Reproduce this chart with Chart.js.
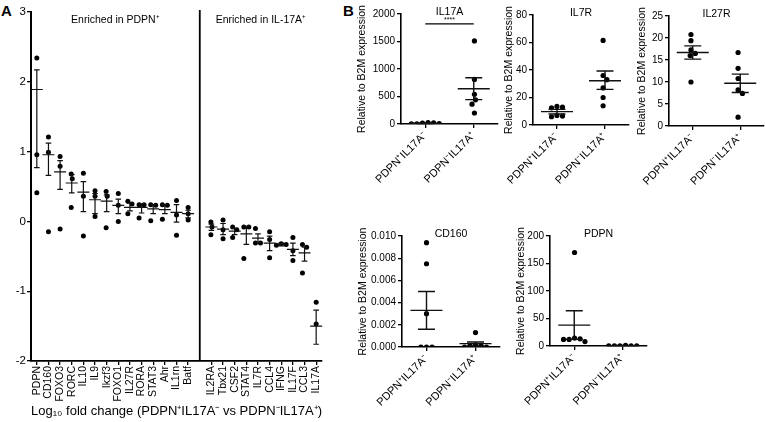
<!DOCTYPE html>
<html>
<head>
<meta charset="utf-8">
<script src="https://cdn.jsdelivr.net/npm/chart.js@4.4.0/dist/chart.umd.min.js"></script>
<style>
  body { margin: 0; background: #fff; }
  #fig { position: relative; width: 765px; height: 422px; overflow: hidden; font-family: "Liberation Sans", Arial, sans-serif; }
  .cv { position: absolute; }
  .panel { position: absolute; font-weight: bold; font-size: 15px; color: #000; line-height: 15px; }
</style>
</head>
<body>
<div id="fig">
  <div class="panel" style="left:1px;top:3px">A</div>
  <div class="panel" style="left:343px;top:3px">B</div>
</div>
<script>
// ---- panel A: log10 fold change per gene ('' = gap between the two groups)
const geneLabels = ['PDPN', 'CD160', 'FOXO3', 'RORC', 'IL10', 'IL9', 'Ikzf3', 'FOXO1', 'IL27R', 'RORA', 'STAT3', 'Ahr', 'IL1rn', 'Batf', '',
  'IL2RA', 'Tbx21', 'CSF2', 'STAT4', 'IL7R', 'CCL4', 'IFNG', 'IL17F', 'CCL3', 'IL17A'];
const genePoints = [
  [2.34, 0.955, 0.41], [1.21, 0.99, -0.15], [0.93, 0.79, -0.11], [0.68, 0.61, 0.20], [0.69, 0.36, -0.21],
  [0.44, 0.36, 0.07], [0.43, 0.36, -0.09], [0.40, 0.23, 0.00], [0.29, 0.25, 0.11], [0.24, 0.24, 0.05],
  [0.24, 0.23, 0.01], [0.24, 0.23, 0.03], [0.30, 0.09, -0.20], [0.20, 0.11, 0.02], [],
  [-0.01, -0.08, -0.19], [0.02, -0.12, -0.25], [-0.08, -0.12, -0.23], [-0.08, -0.08, -0.53], [-0.10, -0.31, -0.31],
  [-0.15, -0.26, -0.52], [-0.32, -0.33, -0.34], [-0.23, -0.42, -0.56], [-0.33, -0.37, -0.74], [-1.16, -1.47]
];
const geneMean = [1.89, 0.955, 0.71, 0.55, 0.42, 0.31, 0.29, 0.23, 0.20, 0.20, 0.18, 0.17, 0.13, 0.11, null,
  -0.08, -0.11, -0.14, -0.18, -0.24, -0.31, -0.33, -0.40, -0.45, -1.50];
const geneHigh = [2.17, 1.12, 0.87, 0.67, 0.57, 0.40, 0.38, 0.32, 0.26, 0.25, 0.24, 0.24, 0.24, 0.16, null,
  -0.04, -0.03, -0.10, -0.07, -0.18, -0.21, -0.31, -0.31, -0.37, -1.27];
const geneLow = [0.77, 0.66, 0.46, 0.41, 0.14, 0.11, 0.14, 0.11, 0.15, 0.12, 0.11, 0.11, -0.01, 0.05, null,
  -0.13, -0.19, -0.19, -0.33, -0.30, -0.42, -0.35, -0.49, -0.57, -1.76];
const yTicksA = [-2, -1, 0, 1, 2, 3];

// ---- panel B: expression relative to B2M, two groups of 6 mice
const groupLabels = ['PDPN⁺IL17A⁻', 'PDPN⁻IL17A⁺'];

const il17aNeg = [25, 20, 15, 8, 5, 3];
const il17aPos = [1510, 810, 540, 440, 360, 200];
const il17aMean = [13, 640];
const il17aLow = [8, 443];
const il17aHigh = [18, 840];

const il7rNeg = [13.5, 13, 12.5, 7, 6.5, 6];
const il7rPos = [61.5, 36, 33, 27, 20, 14];
const il7rMean = [9.7, 32.2];
const il7rLow = [8.0, 25.9];
const il7rHigh = [11.4, 39.3];

const il27rNeg = [20.8, 19.4, 17.3, 16.5, 16, 10];
const il27rPos = [16.7, 13.1, 10.8, 8.2, 7.4, 2.0];
const il27rMean = [16.7, 9.7];
const il27rLow = [15.2, 7.6];
const il27rHigh = [18.2, 11.8];

const cd160Neg = [0.0094, 0.0075, 0.003, 0, 0, 0];
const cd160Pos = [0.0013, 0.0002, 0.0001, 0.0001, 0, 0];
const cd160Mean = [0.0033, 0.0003];
const cd160Low = [0.0016, 0.0001];
const cd160High = [0.0050, 0.00045];

const pdpnNeg = [170, 14.5, 13, 12, 12, 8];
const pdpnPos = [1, 0.5, 0.5, 0.3, 0.2, 0.2];
const pdpnMean = [38, 0.5];
const pdpnLow = [12, 0.3];
const pdpnHigh = [64, 0.8];

const FONT = '"Liberation Sans", Arial, sans-serif';
Chart.defaults.font.family = FONT;
Chart.defaults.color = '#000';

function makeCanvas(left, top, w, h) {
  const c = document.createElement('canvas');
  c.className = 'cv';
  c.width = w; c.height = h;
  c.style.left = left + 'px'; c.style.top = top + 'px';
  c.style.width = w + 'px'; c.style.height = h + 'px';
  document.getElementById('fig').appendChild(c);
  return c;
}

// simple beeswarm: pixel x offsets so dots of diameter d do not overlap
function swarm(values, pxPerUnit, d) {
  const order = values.map((v, i) => i).sort((a, b) => values[b] - values[a]);
  const placed = [];
  const off = new Array(values.length).fill(0);
  order.forEach(i => {
    const y = values[i] * pxPerUnit;
    const cands = [0];
    placed.forEach(p => {
      const dy = Math.abs(p.y - y);
      if (dy < d) {
        const dx = Math.sqrt(d * d - dy * dy);
        cands.push(p.x + dx, p.x - dx);
      }
    });
    cands.sort((a, b) => Math.abs(a) - Math.abs(b));
    const x = cands.find(c => placed.every(p => (p.x - c) ** 2 + (p.y - y) ** 2 >= d * d - 0.01));
    placed.push({x: x, y: y});
    off[i] = x;
  });
  if (!off.length) return off;
  const mid = (Math.min(...off) + Math.max(...off)) / 2;
  return off.map(o => o - mid);
}

// mean line + error whiskers drawn through the chart scales
function errorBars(xs, mean, low, high, meanHalf, capHalf, width) {
  return {
    id: 'errorBars',
    afterDatasetsDraw(chart) {
      const {ctx, scales: {x, y}} = chart;
      ctx.save();
      ctx.strokeStyle = '#111';
      ctx.lineWidth = width;
      mean.forEach((m, i) => {
        if (m == null) return;
        const px = x.getPixelForValue(xs[i]);
        const ym = y.getPixelForValue(m);
        const yh = y.getPixelForValue(high[i]);
        const yl = y.getPixelForValue(low[i]);
        ctx.beginPath();
        ctx.moveTo(px - meanHalf, ym); ctx.lineTo(px + meanHalf, ym);
        ctx.moveTo(px, yh); ctx.lineTo(px, yl);
        ctx.moveTo(px - capHalf, yh); ctx.lineTo(px + capHalf, yh);
        ctx.moveTo(px - capHalf, yl); ctx.lineTo(px + capHalf, yl);
        ctx.stroke();
      });
      ctx.restore();
    }
  };
}

// ---------------- panel A ----------------
(function () {
  const area = {left: 31, top: 12, right: 322, bottom: 361};
  const W = area.left, PR = 10, H = 422 - area.bottom;
  const cv = makeCanvas(0, 0, area.right + PR, 422);
  const slotPx = (area.right - area.left) / geneLabels.length;
  const pxY = (area.bottom - area.top) / 5;
  const gap = geneLabels.indexOf('');

  const pts = [];
  genePoints.forEach((vals, i) => {
    const offs = swarm(vals, pxY, 5);
    vals.forEach((v, k) => pts.push({x: i + offs[k] / slotPx, y: v}));
  });

  const overlay = {
    id: 'panelAText',
    afterDraw(chart) {
      const {ctx, chartArea: a, scales: {x}} = chart;
      const xd = x.getPixelForValue(gap);
      ctx.save();
      ctx.strokeStyle = '#000';
      ctx.lineWidth = 1.8;
      ctx.beginPath(); ctx.moveTo(xd, a.top - 2); ctx.lineTo(xd, a.bottom); ctx.stroke();
      ctx.font = '10.5px ' + FONT;
      ctx.fillStyle = '#000';
      ctx.textAlign = 'center';
      ctx.textBaseline = 'middle';
      ctx.fillText('Enriched in PDPN⁺', (a.left + xd) / 2, 20);
      ctx.fillText('Enriched in IL-17A⁺', (xd + a.right) / 2, 20);
      ctx.restore();
    }
  };

  new Chart(cv, {
    type: 'scatter',
    data: {datasets: [{data: pts, pointRadius: 2.5, pointHoverRadius: 2.5, backgroundColor: '#000', borderWidth: 0}]},
    options: {
      responsive: false,
      animation: false,
      layout: {padding: {top: area.top, right: PR, left: 0, bottom: 0}},
      plugins: {legend: {display: false}, tooltip: {enabled: false}},
      scales: {
        x: {
          type: 'linear', min: -0.5, max: geneLabels.length - 0.5, bounds: 'data',
          afterBuildTicks: s => { s.ticks = geneLabels.map((g, i) => ({value: i})).filter(t => geneLabels[t.value] !== ''); },
          afterFit: s => { s.height = H; },
          ticks: {callback: v => geneLabels[v], autoSkip: false, minRotation: 90, maxRotation: 90, font: {size: 10.5}, padding: 1, color: '#000'},
          grid: {drawOnChartArea: false, tickLength: 4, color: '#000', lineWidth: 1.3},
          border: {color: '#000', width: 1.8},
          title: {display: true, text: 'Log₁₀ fold change (PDPN⁺IL17A⁻ vs PDPN⁻IL17A⁺)', font: {size: 13}, color: '#000', padding: {top: 0, bottom: 2.5}}
        },
        y: {
          min: -2, max: 3, bounds: 'data',
          afterBuildTicks: s => { s.ticks = yTicksA.map(v => ({value: v})); },
          afterFit: s => { s.width = W; },
          ticks: {font: {size: 11.5}, padding: 1, color: '#000'},
          grid: {drawOnChartArea: false, tickLength: 4, color: '#000', lineWidth: 1.3},
          border: {color: '#000', width: 2}
        }
      }
    },
    plugins: [errorBars(geneLabels.map((g, i) => i), geneMean, geneLow, geneHigh, 6, 2.8, 1.2), overlay]
  });
})();

// ---------------- panel B ----------------
function bPanel(p) {
  const W = 50, H = 72, PT = 12, PR = 8;
  const aw = p.right - p.left, ah = p.bottom - p.top;
  const cv = makeCanvas(p.left - W, p.top - PT, W + aw + PR, PT + ah + H);
  const pxY = ah / p.max, pxX = aw / 2;
  const pts = [];
  [p.neg, p.pos].forEach((vals, g) => {
    const offs = swarm(vals, pxY, 5.6);
    vals.forEach((v, k) => pts.push({x: g + offs[k] / pxX, y: v}));
  });

  const overlay = {
    id: 'bText',
    afterDraw(chart) {
      const {ctx, chartArea: a, scales: {x, y}} = chart;
      ctx.save();
      ctx.fillStyle = '#000';
      ctx.textAlign = 'center';
      ctx.textBaseline = 'middle';
      ctx.font = '10.5px ' + FONT;
      ctx.fillText(p.name, (a.left + a.right) / 2, a.top - 2);
      if (p.sig) {
        const yl = y.getPixelForValue(p.sig.at);
        ctx.strokeStyle = '#000';
        ctx.lineWidth = 1.3;
        ctx.beginPath();
        ctx.moveTo(x.getPixelForValue(0), yl); ctx.lineTo(x.getPixelForValue(1), yl);
        ctx.stroke();
        ctx.font = '7px ' + FONT;
        ctx.fillText(p.sig.text, (x.getPixelForValue(0) + x.getPixelForValue(1)) / 2, yl - 4);
      }
      ctx.restore();
    }
  };

  new Chart(cv, {
    type: 'scatter',
    data: {datasets: [{data: pts, pointRadius: 2.6, pointHoverRadius: 2.6, backgroundColor: '#000', borderWidth: 0}]},
    options: {
      responsive: false,
      animation: false,
      layout: {padding: {top: PT, right: PR, left: 0, bottom: 0}},
      plugins: {legend: {display: false}, tooltip: {enabled: false}},
      scales: {
        x: {
          type: 'linear', min: -0.5, max: 1.5, bounds: 'data',
          afterBuildTicks: s => { s.ticks = [{value: 0}, {value: 1}]; },
          afterFit: s => { s.height = H; },
          ticks: {callback: v => groupLabels[v], autoSkip: false, minRotation: 45, maxRotation: 45, font: {size: 11}, padding: 1, color: '#000'},
          grid: {drawOnChartArea: false, tickLength: 4, color: '#000', lineWidth: 1.3},
          border: {color: '#000', width: 1.6}
        },
        y: {
          min: 0, max: p.max, bounds: 'data',
          afterBuildTicks: s => { s.ticks = p.ticks.map(v => ({value: v})); },
          afterFit: s => { s.width = W; },
          ticks: {callback: v => v.toFixed(p.dec), font: {size: 10}, padding: 2, color: '#000'},
          grid: {drawOnChartArea: false, tickLength: 4, color: '#000', lineWidth: 1.3},
          border: {color: '#000', width: 1.6},
          title: {display: true, text: 'Relative to B2M expression', font: {size: 10.5}, color: '#000',
            padding: {top: W - p.titleDist - 6.3, bottom: 0}}
        }
      }
    },
    plugins: [errorBars([0, 1], p.mean, p.low, p.high, 16, 8.5, 1.4), overlay]
  });
}

bPanel({name: 'IL17A', left: 401, top: 14, right: 498, bottom: 124, max: 2000, ticks: [0, 500, 1000, 1500, 2000], dec: 0, titleDist: 39,
  neg: il17aNeg, pos: il17aPos, mean: il17aMean, low: il17aLow, high: il17aHigh, sig: {at: 1820, text: '****'}});
bPanel({name: 'IL7R', left: 533, top: 15, right: 629, bottom: 125, max: 80, ticks: [0, 20, 40, 60, 80], dec: 0, titleDist: 24,
  neg: il7rNeg, pos: il7rPos, mean: il7rMean, low: il7rLow, high: il7rHigh});
bPanel({name: 'IL27R', left: 669, top: 16, right: 764, bottom: 126, max: 25, ticks: [0, 5, 10, 15, 20, 25], dec: 0, titleDist: 27,
  neg: il27rNeg, pos: il27rPos, mean: il27rMean, low: il27rLow, high: il27rHigh});
bPanel({name: 'CD160', left: 402, top: 236, right: 500, bottom: 347, max: 0.01, ticks: [0, 0.002, 0.004, 0.006, 0.008, 0.01], dec: 3, titleDist: 39,
  neg: cd160Neg, pos: cd160Pos, mean: cd160Mean, low: cd160Low, high: cd160High});
bPanel({name: 'PDPN', left: 550, top: 236, right: 647, bottom: 346, max: 200, ticks: [0, 50, 100, 150, 200], dec: 0, titleDist: 29,
  neg: pdpnNeg, pos: pdpnPos, mean: pdpnMean, low: pdpnLow, high: pdpnHigh});
</script>
</body>
</html>
